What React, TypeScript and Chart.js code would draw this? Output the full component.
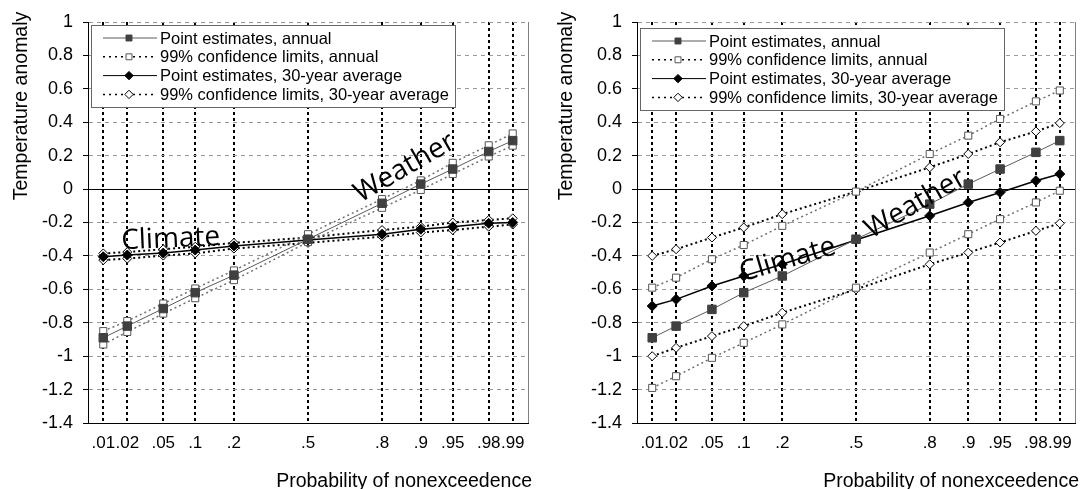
import React, { useEffect, useRef } from 'react';
import { Chart, registerables } from 'chart.js';

Chart.register(...registerables);

// ---------- data ----------
const probabilities = [0.01, 0.02, 0.05, 0.1, 0.2, 0.5, 0.8, 0.9, 0.95, 0.98, 0.99];
const probabilityLabels = ['.01', '.02', '.05', '.1', '.2', '.5', '.8', '.9', '.95', '.98', '.99'];

const yMin = -1.4;
const yMax = 1;
const yStep = 0.2;
const zMin = -2.5;
const zMax = 2.5;

// left panel
const leftAnnualPoint = [-0.89, -0.82, -0.715, -0.62, -0.515, -0.3, -0.085, 0.03, 0.12, 0.225, 0.29];
const leftAnnualUpper = [-0.85, -0.79, -0.685, -0.595, -0.487, -0.27, -0.06, 0.052, 0.157, 0.262, 0.333];
const leftAnnualLower = [-0.93, -0.855, -0.745, -0.653, -0.545, -0.317, -0.112, -0.005, 0.09, 0.195, 0.26];
const leftAvgPoint = [-0.405, -0.395, -0.383, -0.365, -0.34, -0.305, -0.27, -0.24, -0.225, -0.205, -0.2];
const leftAvgUpper = [-0.385, -0.377, -0.36, -0.345, -0.322, -0.29, -0.245, -0.225, -0.2, -0.185, -0.175];
const leftAvgLower = [-0.425, -0.416, -0.398, -0.385, -0.356, -0.322, -0.285, -0.26, -0.245, -0.225, -0.212];

// right panel
const rightAnnualPoint = [-0.89, -0.82, -0.72, -0.62, -0.52, -0.3, -0.09, 0.03, 0.12, 0.22, 0.29];
const rightAnnualUpper = [-0.59, -0.53, -0.42, -0.335, -0.22, -0.015, 0.21, 0.32, 0.42, 0.525, 0.59];
const rightAnnualLower = [-1.19, -1.12, -1.01, -0.92, -0.81, -0.59, -0.38, -0.27, -0.18, -0.08, -0.01];
const rightAvgPoint = [-0.7, -0.66, -0.58, -0.52, -0.45, -0.305, -0.16, -0.08, -0.02, 0.05, 0.09];
const rightAvgUpper = [-0.4, -0.36, -0.29, -0.23, -0.15, -0.015, 0.13, 0.21, 0.28, 0.345, 0.395];
const rightAvgLower = [-1.0, -0.95, -0.88, -0.82, -0.74, -0.6, -0.45, -0.38, -0.32, -0.25, -0.205];

const legendLabels = [
  'Point estimates, annual',
  '99% confidence limits, annual',
  'Point estimates, 30-year average',
  '99% confidence limits, 30-year average',
];
const yTitle = 'Temperature anomaly';
const xTitle = 'Probability of nonexceedence';
const annotationTexts = ['Climate', 'Weather'];

// ---------- helpers ----------
function probit(p: number): number {
  const a = [-3.969683028665376e1, 2.209460984245205e2, -2.759285104469687e2, 1.38357751867269e2, -3.066479806614716e1, 2.506628277459239];
  const b = [-5.447609879822406e1, 1.615858368580409e2, -1.556989798598866e2, 6.680131188771972e1, -1.328068155288572e1];
  const c = [-7.784894002430293e-3, -3.223964580411365e-1, -2.400758277161838, -2.549732539343734, 4.374664141464968, 2.938163982698783];
  const d = [7.784695709041462e-3, 3.224671290700398e-1, 2.445134137142996, 3.754408661907416];
  const pl = 0.02425;
  if (p < pl) {
    const q = Math.sqrt(-2 * Math.log(p));
    return (((((c[0] * q + c[1]) * q + c[2]) * q + c[3]) * q + c[4]) * q + c[5]) / ((((d[0] * q + d[1]) * q + d[2]) * q + d[3]) * q + 1);
  }
  if (p > 1 - pl) {
    const q = Math.sqrt(-2 * Math.log(1 - p));
    return -(((((c[0] * q + c[1]) * q + c[2]) * q + c[3]) * q + c[4]) * q + c[5]) / ((((d[0] * q + d[1]) * q + d[2]) * q + d[3]) * q + 1);
  }
  const q = p - 0.5;
  const r = q * q;
  return ((((((a[0] * r + a[1]) * r + a[2]) * r + a[3]) * r + a[4]) * r + a[5]) * q) / (((((b[0] * r + b[1]) * r + b[2]) * r + b[3]) * r + b[4]) * r + 1);
}

const FONT = "'Liberation Sans', Arial, sans-serif";

const STYLE = {
  annualPoint: { line: '#5a5a5a', width: 1, dash: [] as number[], shape: 'rect', r: 6, fill: '#404040', stroke: '#404040' },
  annualCI: { line: '#707070', width: 1.5, dash: [2, 3], shape: 'rect', r: 5, fill: '#ffffff', stroke: '#555555' },
  avgPoint: { line: '#000000', width: 1.5, dash: [] as number[], shape: 'rectRot', r: 5, fill: '#000000', stroke: '#000000' },
  avgCI: { line: '#000000', width: 2, dash: [2, 3], shape: 'rectRot', r: 4.5, fill: '#ffffff', stroke: '#000000' },
};

type Panel = {
  annualPoint: number[];
  annualUpper: number[];
  annualLower: number[];
  avgPoint: number[];
  avgUpper: number[];
  avgLower: number[];
  yAxisWidth: number;
  rightPad: number;
  legendTop: number;
  yTitleX: number;
  xTitleRight: number;
  annotations: { z: number; v: number; angle: number }[];
};

const panels: Panel[] = [
  {
    annualPoint: leftAnnualPoint,
    annualUpper: leftAnnualUpper,
    annualLower: leftAnnualLower,
    avgPoint: leftAvgPoint,
    avgUpper: leftAvgUpper,
    avgLower: leftAvgLower,
    yAxisWidth: 88,
    rightPad: 13,
    legendTop: 25,
    yTitleX: 22,
    xTitleRight: 532,
    annotations: [
      { z: -1.56, v: -0.3, angle: -2.5 },
      { z: 1.1, v: 0.127, angle: -30 },
    ],
  },
  {
    annualPoint: rightAnnualPoint,
    annualUpper: rightAnnualUpper,
    annualLower: rightAnnualLower,
    avgPoint: rightAvgPoint,
    avgUpper: rightAvgUpper,
    avgLower: rightAvgLower,
    yAxisWidth: 96,
    rightPad: 5,
    legendTop: 28,
    yTitleX: 26,
    xTitleRight: 538,
    annotations: [
      { z: -0.78, v: -0.424, angle: -16.5 },
      { z: 0.68, v: -0.089, angle: -30 },
    ],
  },
];

function toPoints(values: number[]) {
  return probabilities.map((p, i) => ({ x: probit(p), y: values[i] }));
}

function ds(label: string, values: number[], st: typeof STYLE.annualPoint) {
  return {
    label,
    data: toPoints(values),
    borderColor: st.line,
    borderWidth: st.width,
    borderDash: st.dash,
    pointStyle: st.shape,
    pointRadius: st.r,
    pointHoverRadius: st.r,
    pointBackgroundColor: st.fill,
    pointBorderColor: st.stroke,
    pointBorderWidth: 1,
    tension: 0,
    fill: false,
  };
}

function drawMarker(ctx: CanvasRenderingContext2D, st: typeof STYLE.annualPoint, x: number, y: number, r: number) {
  ctx.save();
  ctx.setLineDash([]);
  ctx.fillStyle = st.fill;
  ctx.strokeStyle = st.stroke;
  ctx.lineWidth = 1;
  ctx.beginPath();
  if (st.shape === 'rect') {
    const s = r * Math.SQRT1_2;
    ctx.rect(x - s, y - s, 2 * s, 2 * s);
  } else {
    ctx.moveTo(x - r, y);
    ctx.lineTo(x, y - r);
    ctx.lineTo(x + r, y);
    ctx.lineTo(x, y + r);
    ctx.closePath();
  }
  ctx.fill();
  ctx.stroke();
  ctx.restore();
}

function makeDecor(panel: Panel) {
  return {
    id: 'decor',
    afterDraw(chart: any) {
      const ctx: CanvasRenderingContext2D = chart.ctx;
      const area = chart.chartArea;
      const xs = chart.scales.x;
      const ys = chart.scales.y;
      ctx.save();

      // right frame
      ctx.strokeStyle = '#808080';
      ctx.lineWidth = 1;
      ctx.setLineDash([]);
      ctx.beginPath();
      ctx.moveTo(area.right + 0.5, area.top);
      ctx.lineTo(area.right + 0.5, area.bottom);
      ctx.stroke();

      // legend box
      const bx = area.left + 3;
      const by = panel.legendTop;
      const bw = 364;
      const bh = 82;
      ctx.fillStyle = '#ffffff';
      ctx.fillRect(bx, by, bw, bh);
      ctx.strokeStyle = '#666666';
      ctx.lineWidth = 1;
      ctx.strokeRect(bx + 0.5, by + 0.5, bw, bh);
      const styles = [STYLE.annualPoint, STYLE.annualCI, STYLE.avgPoint, STYLE.avgCI];
      ctx.font = `16.5px ${FONT}`;
      ctx.textBaseline = 'middle';
      ctx.textAlign = 'left';
      styles.forEach((st, i) => {
        const y = by + 13 + i * 18.8;
        ctx.save();
        ctx.strokeStyle = st.dash.length ? '#000' : st.line;
        ctx.lineWidth = st.dash.length ? 1.5 : 1;
        ctx.setLineDash(st.dash.length ? [2, 4] : []);
        ctx.beginPath();
        ctx.moveTo(bx + 12, y);
        ctx.lineTo(bx + 66, y);
        ctx.stroke();
        ctx.restore();
        drawMarker(ctx, st, bx + 38, y, 4.2);
        ctx.fillStyle = '#000';
        ctx.fillText(legendLabels[i], bx + 69, y + 1);
      });

      // annotations
      ctx.font = `28px 'Open Sans', 'DejaVu Sans', sans-serif`;
      ctx.fillStyle = '#000';
      ctx.textAlign = 'center';
      ctx.textBaseline = 'middle';
      panel.annotations.forEach((a, i) => {
        const x = xs.getPixelForValue(a.z);
        const y = ys.getPixelForValue(a.v);
        ctx.save();
        ctx.translate(x, y);
        ctx.rotate((a.angle * Math.PI) / 180);
        ctx.fillText(annotationTexts[i], 0, 0);
        ctx.restore();
      });

      // axis titles
      ctx.font = `19.5px ${FONT}`;
      ctx.fillStyle = '#000';
      ctx.save();
      ctx.translate(panel.yTitleX, 106);
      ctx.rotate(-Math.PI / 2);
      ctx.textAlign = 'center';
      ctx.textBaseline = 'middle';
      ctx.fillText(yTitle, 0, 0);
      ctx.restore();

      ctx.textAlign = 'right';
      ctx.textBaseline = 'alphabetic';
      ctx.fillText(xTitle, panel.xTitleRight, 487);

      ctx.restore();
    },
  };
}

function makeConfig(panel: Panel): any {
  return {
    type: 'line',
    data: {
      datasets: [
        ds(legendLabels[0], panel.annualPoint, STYLE.annualPoint),
        ds(legendLabels[2], panel.avgPoint, STYLE.avgPoint),
        ds(legendLabels[1], panel.annualUpper, STYLE.annualCI),
        ds(legendLabels[1], panel.annualLower, STYLE.annualCI),
        ds(legendLabels[3], panel.avgUpper, STYLE.avgCI),
        ds(legendLabels[3], panel.avgLower, STYLE.avgCI),
      ],
    },
    options: {
      animation: false,
      responsive: false,
      layout: { padding: { left: 0, right: panel.rightPad, top: 22, bottom: 0 } },
      plugins: { legend: { display: false }, tooltip: { enabled: false } },
      scales: {
        x: {
          type: 'linear',
          min: zMin,
          max: zMax,
          afterBuildTicks: (axis: any) => {
            axis.ticks = probabilities.map((p) => ({ value: probit(p) }));
          },
          afterFit: (scale: any) => {
            scale.height = 66;
          },
          ticks: {
            autoSkip: false,
            maxRotation: 0,
            minRotation: 0,
            padding: 10,
            color: '#000',
            font: { family: FONT, size: 17 },
            callback: (_v: any, i: number) => probabilityLabels[i],
          },
          grid: { color: '#000', lineWidth: 2, drawTicks: false, tickLength: 0 },
          border: { display: true, color: '#000', width: 1, dash: [3, 3] },
        },
        y: {
          type: 'linear',
          min: yMin,
          max: yMax,
          afterFit: (scale: any) => {
            scale.width = panel.yAxisWidth;
          },
          ticks: {
            stepSize: yStep,
            padding: 10,
            color: '#000',
            font: { family: FONT, size: 18 },
            callback: (v: number) => String(Math.round(v * 10) / 10),
          },
          grid: {
            color: (c: any) => (c.tick && Math.abs(c.tick.value) < 1e-6 ? '#000' : '#9a9a9a'),
            lineWidth: 1,
            drawTicks: true,
            tickLength: 5,
            tickColor: '#000',
          },
          border: {
            display: true,
            color: '#000',
            width: 1,
            dash: (c: any) => (c.tick && Math.abs(c.tick.value) < 1e-6 ? [] : [4, 4]),
          },
        },
      },
    },
    plugins: [makeDecor(panel)],
  };
}

function PanelChart({ panel, left }: { panel: Panel; left: number }) {
  const ref = useRef<HTMLCanvasElement>(null);
  useEffect(() => {
    if (!ref.current) return;
    const chart = new Chart(ref.current, makeConfig(panel));
    return () => chart.destroy();
  }, [panel]);
  return (
    <canvas
      ref={ref}
      width={541}
      height={489}
      style={{ position: 'absolute', left, top: 0, width: 541, height: 489 }}
    />
  );
}

export default function App() {
  return (
    <div style={{ position: 'absolute', left: 0, top: 0, width: 1082, height: 489, background: '#fff', overflow: 'hidden' }}>
      <PanelChart panel={panels[0]} left={0} />
      <PanelChart panel={panels[1]} left={541} />
    </div>
  );
}
